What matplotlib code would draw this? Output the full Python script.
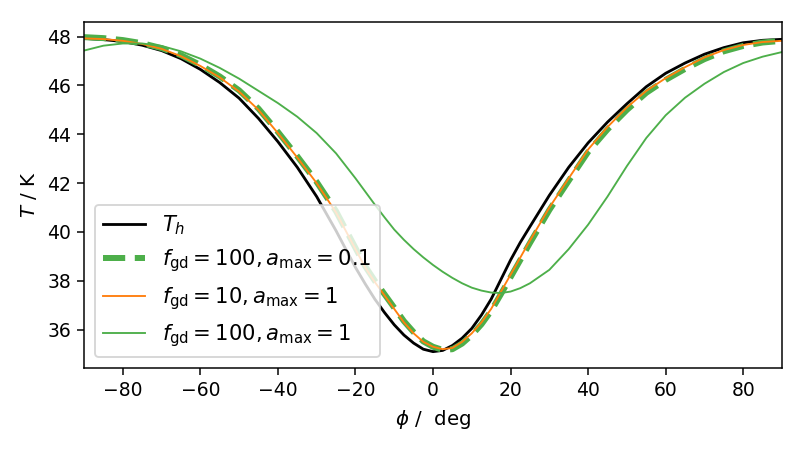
import numpy as np
import matplotlib
matplotlib.use("Agg")
import matplotlib.pyplot as plt

# phi grid (deg) shared by all curves, finer near the minimum
phi = [-90, -85, -80, -75, -70, -65, -60, -55, -50, -45, -40, -35, -30, -25,
       -20, -17.5, -15, -12.5, -10, -7.5, -5, -2.5, 0, 2.5, 5, 7.5, 10, 12.5,
       15, 17.5, 20, 22.5, 25, 30, 35, 40, 45, 50, 55, 60, 65, 70, 75, 80,
       85, 90]

# T_h
T_h = [47.93, 47.88, 47.80, 47.65, 47.43, 47.10, 46.66, 46.12, 45.48, 44.65,
       43.70, 42.65, 41.45, 40.05, 38.55, 37.88, 37.25, 36.70, 36.20, 35.78,
       35.45, 35.20, 35.10, 35.15, 35.35, 35.65, 36.05, 36.60, 37.25, 38.05,
       38.85, 39.57, 40.22, 41.50, 42.65, 43.65, 44.50, 45.25, 45.95, 46.50,
       46.92, 47.28, 47.55, 47.75, 47.85, 47.89]

# f_gd = 100, a_max = 0.1
T_100_01 = [47.98, 47.94, 47.86, 47.73, 47.53, 47.24, 46.84, 46.37, 45.80,
            45.05, 44.10, 43.10, 42.05, 40.85, 39.35, 38.60, 38.00, 37.45,
            36.90, 36.35, 35.90, 35.52, 35.30, 35.17, 35.20, 35.43, 35.78,
            36.22, 36.77, 37.45, 38.15, 38.85, 39.55, 40.90, 42.10, 43.28,
            44.20, 45.00, 45.70, 46.23, 46.68, 47.08, 47.40, 47.62, 47.76,
            47.83]

# f_gd = 10, a_max = 1
T_10_1 = [47.93, 47.90, 47.83, 47.70, 47.50, 47.20, 46.80, 46.33, 45.75,
          45.00, 44.05, 43.05, 42.00, 40.80, 39.30, 38.55, 37.95, 37.40,
          36.85, 36.30, 35.85, 35.50, 35.30, 35.20, 35.25, 35.50, 35.85,
          36.30, 36.85, 37.55, 38.25, 38.95, 39.65, 41.00, 42.20, 43.38,
          44.30, 45.10, 45.78, 46.30, 46.75, 47.15, 47.45, 47.66, 47.78,
          47.83]

# f_gd = 100, a_max = 1
T_100_1 = [47.43, 47.63, 47.72, 47.72, 47.62, 47.40, 47.10, 46.72, 46.28,
           45.78, 45.28, 44.72, 44.05, 43.22, 42.20, 41.66, 41.12, 40.60,
           40.10, 39.68, 39.30, 38.96, 38.65, 38.37, 38.12, 37.90, 37.72,
           37.60, 37.52, 37.50, 37.56, 37.70, 37.90, 38.45, 39.30, 40.30,
           41.45, 42.70, 43.85, 44.78, 45.50, 46.07, 46.55, 46.92, 47.18,
           47.37]

green = "#4daf4a"
orange = "#ff7f0e"

fig = plt.figure(figsize=(805 / 135, 450 / 135), dpi=135)
ax = fig.add_axes([84 / 805, 82 / 450, 698 / 805, 346 / 450])

ax.plot(phi, T_h, color="k", lw=1.5, label=r"$T_h$")
ax.plot(phi, T_100_01, color=green, lw=3.2, ls="--",
        label=r"$f_{\rm gd} = 100, a_{\rm max} = 0.1$")
ax.plot(phi, T_10_1, color=orange, lw=1.0,
        label=r"$f_{\rm gd} = 10, a_{\rm max} = 1$")
ax.plot(phi, T_100_1, color=green, lw=1.0,
        label=r"$f_{\rm gd} = 100, a_{\rm max} = 1$")

ax.set_xlim(-90, 90)
ax.set_ylim(34.43, 48.6)
ax.set_xticks([-80, -60, -40, -20, 0, 20, 40, 60, 80])
ax.set_yticks([36, 38, 40, 42, 44, 46, 48])
ax.tick_params(labelsize=10)
ax.set_xlabel(r"$\phi$ /  deg", fontsize=10.5)
ax.set_ylabel(r"$T$ / K", fontsize=10.5)
ax.legend(loc="lower left", fontsize=11.3)

fig.savefig("out.png", dpi=135)
